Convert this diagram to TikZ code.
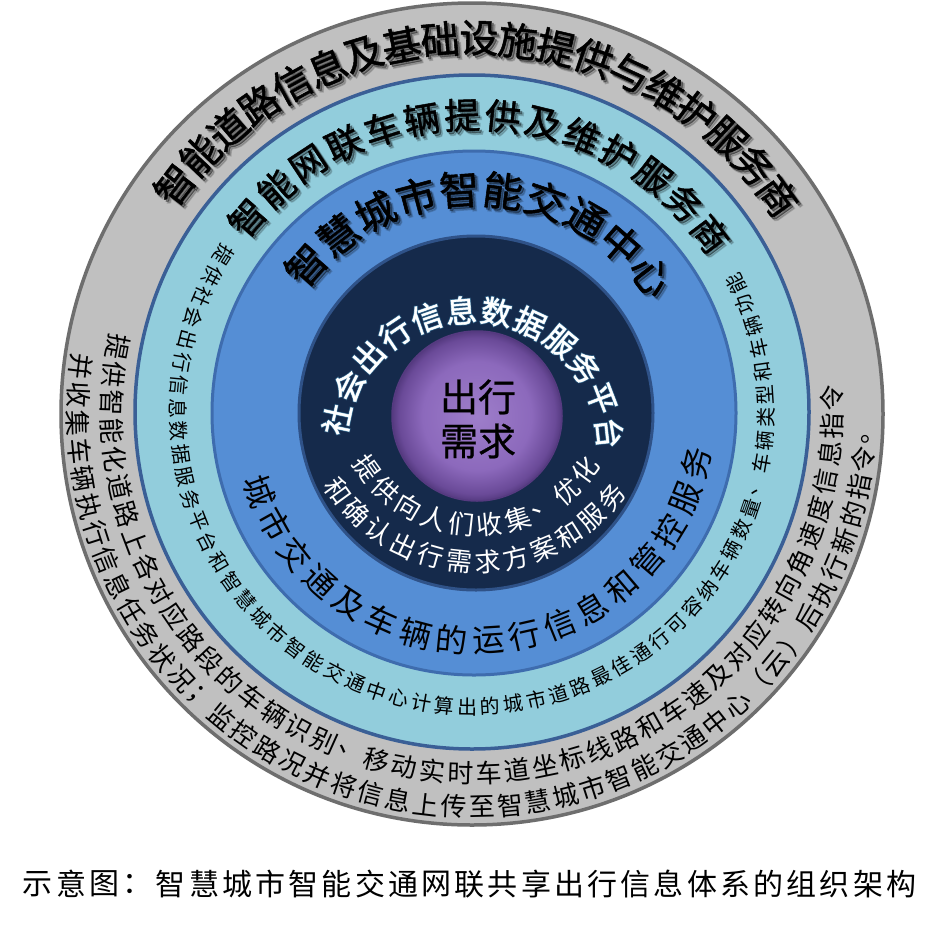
\documentclass[tikz,border=0pt]{standalone}
\usepackage{fontspec}
\newfontfamily\cjk{Noto Sans CJK SC}
\definecolor{grayfill}{HTML}{C0C0C0}
\definecolor{grayline}{HTML}{6E6E6E}
\definecolor{lightfill}{HTML}{92CDDC}
\definecolor{lightline}{HTML}{3A5F96}
\definecolor{midfill}{HTML}{558ED5}
\definecolor{midline}{HTML}{3E6CAE}
\definecolor{navyfill}{HTML}{152A4B}
\definecolor{navyline}{HTML}{2F5288}
\definecolor{pin}{HTML}{9E7ECA}
\definecolor{pmid}{HTML}{8C69BC}
\definecolor{pedge}{HTML}{6A4A98}
\definecolor{pline}{HTML}{553A80}
\definecolor{glowc}{HTML}{6FD3FF}
\pgfdeclareradialshading{purpball}{\pgfpoint{0bp}{0bp}}{color(0bp)=(pin); color(16bp)=(pmid); color(23bp)=(pedge); color(25bp)=(pline); color(50bp)=(pline)}
% place characters along a circle arc
\newcommand\arcchars[9]{%
  \foreach \chr [count=\ii from 0] in {#9}{%
    \pgfmathsetmacro\ang{#5+\ii*(#6)}%
    \pgfmathsetmacro\rot{\ang+(#7)}%
    \node[#8, rotate=\rot] (#1\ii) at ({#2+#4*cos(\ang)},{#3-#4*sin(\ang)}) {\chr};%
  }%
}
\newcommand\titlearc[8]{%
  \arcchars{#1a}{#2+3.5}{#3+3.5}{#4}{#5}{#6}{-90}{shadowA=#7}{#8}%
  \arcchars{#1b}{#2+2}{#3+2}{#4}{#5}{#6}{-90}{shadowB=#7}{#8}%
  \arcchars{#1}{#2}{#3}{#4}{#5}{#6}{-90}{title=#7}{#8}%
}
\begin{document}
\begin{tikzpicture}[x=1pt,y=-1pt,
  ch/.style={inner sep=0pt,outer sep=0pt},
  title/.style={ch,font=\cjk\fontsize{#1}{#1}\selectfont\addfontfeature{FakeBold=1.3},text=black},
  shadowA/.style={ch,font=\cjk\fontsize{#1}{#1}\selectfont\addfontfeature{FakeBold=4},text=black,text opacity=0.16},
  shadowB/.style={ch,font=\cjk\fontsize{#1}{#1}\selectfont\addfontfeature{FakeBold=2.5},text=black,text opacity=0.3},
  body/.style={ch,font=\cjk\fontsize{#1}{#1}\selectfont,text=black},
  wbody/.style={ch,font=\cjk\fontsize{#1}{#1}\selectfont,text=white},
  glowA/.style={ch,font=\cjk\fontsize{31}{31}\selectfont\addfontfeature{FakeBold=7},text=glowc,text opacity=0.18},
  glowB/.style={ch,font=\cjk\fontsize{31}{31}\selectfont\addfontfeature{FakeBold=4},text=glowc,text opacity=0.35},
  ring/.style={circle,inner sep=0pt,outer sep=0pt},
  captxt/.style={ch,font=\cjk\fontsize{30}{30}\selectfont,text=black}]
\useasboundingbox (0,0) rectangle (950,924);
\fill[white] (0,0) rectangle (950,924);
% rings
\node[ring,draw=grayline,line width=3.5pt,fill=grayfill,minimum size=822pt] (outer) at (472,414) {};
\node[ring,draw=lightline,line width=3.5pt,fill=lightfill,minimum size=674pt] (light) at (472,412) {};
\node[ring,draw=midline,line width=3pt,fill=midfill,minimum size=524pt] (mid) at (474,413) {};
\node[ring,draw=navyline,line width=3pt,fill=navyfill,minimum size=354pt] (navy) at (476,413) {};
\node[ring,shading=purpball,draw=pline,line width=1.5pt,minimum size=170pt] (purple) at (477,416) {};
% purple centre text
\node[ch,font=\cjk\fontsize{38}{38}\selectfont\addfontfeature{FakeBold=0.6}] (cx1) at (478,397) {出行};
\node[ch,font=\cjk\fontsize{38}{38}\selectfont\addfontfeature{FakeBold=0.6}] (cx2) at (478,441) {需求};
% gray ring title
\titlearc{gt}{472}{413}{375}{142.5}{-5.95}{39}{智,能,道,路,信,息,及,基,础,设,施,提,供,与,维,护,服,务,商}
% light ring title
\titlearc{lt}{472}{413}{298}{139}{-7.85}{36}{智,能,网,联,车,辆,提,供,及,维,护,服,务,商}
% medium ring title
\titlearc{mt}{474}{413}{224}{138.6}{-11.2}{40}{智,慧,城,市,智,能,交,通,中,心}
% navy ring title with glow
\arcchars{nga}{472}{448}{138}{168}{-14.7}{-90}{glowA}{社,会,出,行,信,息,数,据,服,务,平,台}
\arcchars{ngb}{472}{448}{138}{168}{-14.7}{-90}{glowB}{社,会,出,行,信,息,数,据,服,务,平,台}
\arcchars{nt}{472}{448}{138}{168}{-14.7}{-90}{title=31,text=white}{社,会,出,行,信,息,数,据,服,务,平,台}
% navy bottom lines
\arcchars{nb1-}{477}{390}{135}{215.5}{12}{90}{wbody=26}{提,供,向,人,们,收,集,、,优,化}
\arcchars{nb2-}{477}{390}{172}{216}{9.6}{90}{wbody=26}{和,确,认,出,行,需,求,方,案,和,服,务}
% medium ring bottom
\arcchars{mb}{474}{413}{228}{200}{9.2}{90}{body=32}{城,市,交,通,及,车,辆,的,运,行,信,息,和,管,控,服,务}
% light ring side text
\arcchars{ls}{472}{413}{294}{147.6}{4.5}{90}{body=20}{提,供,社,会,出,行,信,息,数,据,服,务,平,台,和,智,慧,城,市,智,能,交,通,中,心,计,算,出,的,城,市,道,路,最,佳,通,行,可,容,纳,车,辆,数,量,、,车,辆,类,型,和,车,辆,功,能}
% gray ring lines
\arcchars{ga}{472}{413}{360}{169.4}{4.49}{90}{body=26}{提,供,智,能,化,道,路,上,各,对,应,路,段,的,车,辆,识,别,、,移,动,实,时,车,道,坐,标,线,路,和,车,速,及,对,应,转,向,角,速,度,信,息,指,令}
\arcchars{gb}{472}{413}{394}{173.3}{4.09}{90}{body=26}{并,收,集,车,辆,执,行,信,息,任,务,状,况,；,监,控,路,况,并,将,信,息,上,传,至,智,慧,城,市,智,能,交,通,中,心,（,云,）,后,执,行,新,的,指,令,。}
% caption
\foreach \chr [count=\ii from 0] in {示,意,图,：,智,慧,城,市,智,能,交,通,网,联,共,享,出,行,信,息,体,系,的,组,织,架,构}{%
  \node[captxt] (cap\ii) at (38+\ii*33.2,884) {\chr};}
\end{tikzpicture}
\end{document}
